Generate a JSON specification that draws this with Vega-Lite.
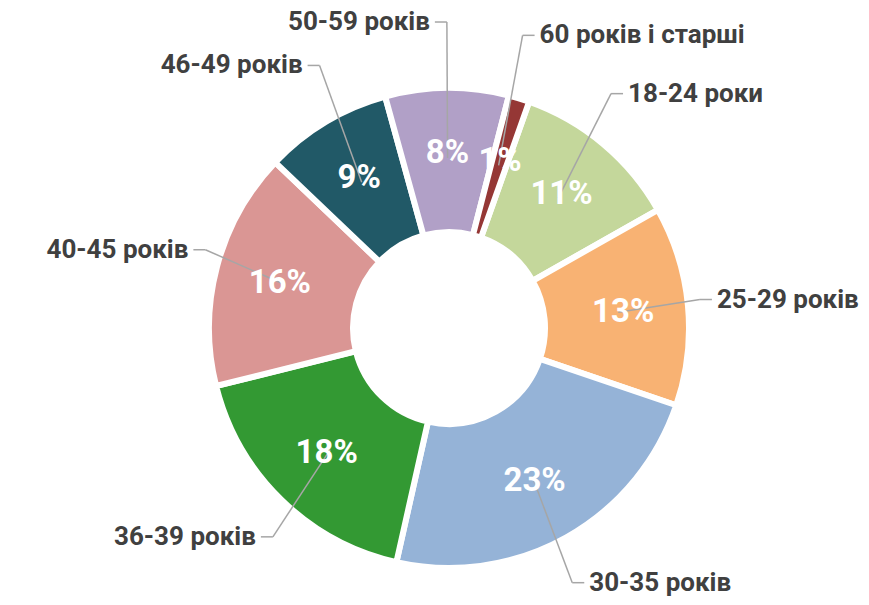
{
  "$schema": "https://vega.github.io/schema/vega-lite/v6.json",
  "width": 840,
  "height": 554,
  "padding": {"left": 29, "top": 51, "right": 0, "bottom": 0},
  "autosize": {"type": "none"},
  "background": "white",
  "config": {"view": {"stroke": null}},
  "data": {
    "values": [
      {"age": "18-24 роки", "share": 0.114, "idx": 1},
      {"age": "25-29 років", "share": 0.134, "idx": 2},
      {"age": "30-35 років", "share": 0.233, "idx": 3},
      {"age": "36-39 років", "share": 0.176, "idx": 4},
      {"age": "40-45 років", "share": 0.160, "idx": 5},
      {"age": "46-49 років", "share": 0.086, "idx": 6},
      {"age": "50-59 років", "share": 0.083, "idx": 7},
      {"age": "60 років і старші", "share": 0.014, "idx": 8}
    ]
  },
  "transform": [
    {"stack": "share", "groupby": [], "sort": [{"field": "idx"}], "as": ["s0", "s1"]},
    {"calculate": "(datum.s0 + datum.s1) / 2", "as": "mid"},
    {"calculate": "0.3403 + datum.mid * 2 * PI", "as": "ang"},
    {"calculate": "sin(datum.ang) >= 0 ? 1 : -1", "as": "side"},
    {"calculate": "170 * sin(datum.ang)", "as": "lx0"},
    {"calculate": "170 * cos(datum.ang)", "as": "ly0"},
    {"calculate": "252 * sin(datum.ang)", "as": "lx1"},
    {"calculate": "(cos(datum.ang) > 0 ? 306 : 292) * cos(datum.ang)", "as": "ly1"},
    {"calculate": "datum.lx1 + 12 * datum.side", "as": "lx2"},
    {"calculate": "datum.lx2 + 5 * datum.side", "as": "tx"},
    {"calculate": "175 * sin(datum.ang)", "as": "px"},
    {"calculate": "175 * cos(datum.ang)", "as": "py"}
  ],
  "layer": [
    {
      "mark": {"type": "arc", "outerRadius": 240, "innerRadius": 96, "stroke": "white", "strokeWidth": 6},
      "encoding": {
        "theta": {"field": "s0", "type": "quantitative", "stack": null, "scale": {"domain": [0, 1], "range": [0.3403, 6.6235]}},
        "theta2": {"field": "s1"},
        "color": {
          "field": "age",
          "type": "nominal",
          "scale": {
            "domain": ["18-24 роки", "25-29 років", "30-35 років", "36-39 років", "40-45 років", "46-49 років", "50-59 років", "60 років і старші"],
            "range": ["#C4D79B", "#F8B273", "#95B3D7", "#339933", "#DA9694", "#215967", "#B1A0C7", "#953735"]
          },
          "legend": null
        }
      }
    },
    {
      "mark": {"type": "rule", "color": "#A6A6A6", "strokeWidth": 1.5},
      "encoding": {
        "x": {"field": "lx0", "type": "quantitative", "scale": {"domain": [-420, 420], "nice": false, "zero": false}, "axis": null},
        "y": {"field": "ly0", "type": "quantitative", "scale": {"domain": [-277, 277], "nice": false, "zero": false}, "axis": null},
        "x2": {"field": "lx1"},
        "y2": {"field": "ly1"}
      }
    },
    {
      "mark": {"type": "rule", "color": "#A6A6A6", "strokeWidth": 1.5},
      "encoding": {
        "x": {"field": "lx1", "type": "quantitative"},
        "x2": {"field": "lx2"},
        "y": {"field": "ly1", "type": "quantitative"}
      }
    },
    {
      "mark": {"type": "text", "font": "Roboto", "fontWeight": "bold", "fontSize": 33, "color": "white", "align": "center", "baseline": "middle"},
      "encoding": {
        "x": {"field": "px", "type": "quantitative"},
        "y": {"field": "py", "type": "quantitative"},
        "text": {"field": "share", "type": "quantitative", "format": ".0%"}
      }
    },
    {
      "transform": [{"filter": "datum.side > 0"}],
      "mark": {"type": "text", "font": "Roboto", "fontWeight": "bold", "fontSize": 26, "color": "#404040", "align": "left", "baseline": "middle"},
      "encoding": {
        "x": {"field": "tx", "type": "quantitative"},
        "y": {"field": "ly1", "type": "quantitative"},
        "text": {"field": "age", "type": "nominal"}
      }
    },
    {
      "transform": [{"filter": "datum.side < 0"}],
      "mark": {"type": "text", "font": "Roboto", "fontWeight": "bold", "fontSize": 26, "color": "#404040", "align": "right", "baseline": "middle"},
      "encoding": {
        "x": {"field": "tx", "type": "quantitative"},
        "y": {"field": "ly1", "type": "quantitative"},
        "text": {"field": "age", "type": "nominal"}
      }
    }
  ]
}
